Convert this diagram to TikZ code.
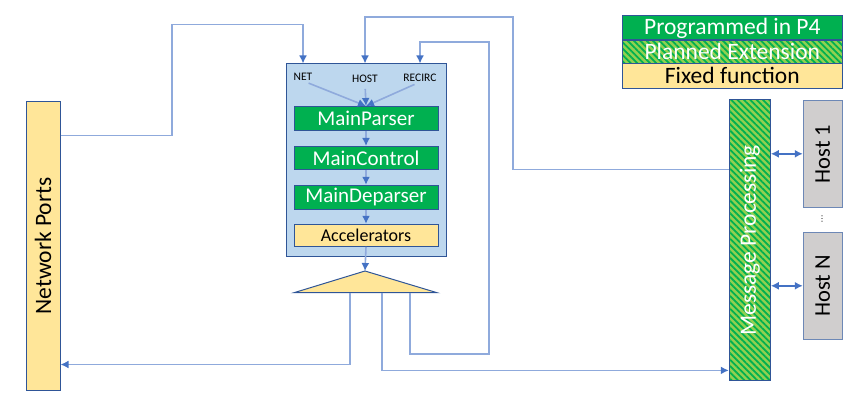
\documentclass[tikz,border=0pt]{standalone}
\usepackage{fontspec}
\setmainfont{Carlito}
\newfontfamily\symbfont{DejaVu Sans}
\usetikzlibrary{arrows.meta,calc,patterns.meta}

\definecolor{ppgreen}{HTML}{00B050}
\definecolor{lightgreen}{HTML}{92D050}
\definecolor{fixedyellow}{HTML}{FFE699}
\definecolor{coreblue}{HTML}{BDD7EE}
\definecolor{edgeblue}{HTML}{2F5597}
\definecolor{wireblue}{HTML}{8FAADC}
\definecolor{tipblue}{HTML}{4472C4}
\definecolor{hostgrey}{HTML}{D0CECE}

\tikzset{
  box/.style={draw=edgeblue, line width=1pt, inner sep=0pt},
  ppbox/.style={box, fill=ppgreen, text=white, minimum width=144pt, font=\fontsize{21}{24}\selectfont},
  fixedbox/.style={box, fill=fixedyellow},
  plannedbox/.style={box, preaction={fill=lightgreen}, pattern={Lines[angle=-45,distance=4.5pt,line width=1.8pt]}, pattern color=ppgreen, text=white},
  hostbox/.style={box, draw=edgeblue!70, fill=hostgrey, rotate=90, minimum width=107pt, minimum height=39pt, font=\fontsize{22.5}{26}\selectfont},
  bigtext/.style={font=\fontsize{23.5}{27}\selectfont},
  portlabel/.style={inner sep=0pt, font=\fontsize{11.5}{13}\selectfont},
  wire/.style={draw=wireblue, line width=1.6pt, -{Latex[length=8pt,width=8pt,color=tipblue]}},
  biwire/.style={draw=tipblue, line width=1.6pt, {Latex[length=8pt,width=8pt]}-{Latex[length=8pt,width=8pt]}}
}

\begin{document}
\begin{tikzpicture}[x=1pt,y=-1pt]
	%%%%% FRAME %%%%%
	\useasboundingbox (0,0) rectangle (862,406);
	
	%%%%% LEGEND %%%%%
	\node[box, fill=ppgreen, text=white, bigtext, minimum width=220pt, minimum height=24pt] (legprog) at (732.3,28) {Programmed in P4};
	\node[plannedbox, bigtext, minimum width=220pt, minimum height=23.3pt] (legplan) at (732.3,51.7) {Planned Extension};
	\node[fixedbox, bigtext, minimum width=220pt, minimum height=25pt] (legfixed) at (732.3,75.8) {Fixed function};
	
	%%%%% PORTS AND HOSTS %%%%%
	% rotate=90: south is the right side, north the left side
	\node[fixedbox, bigtext, rotate=90, minimum width=288pt, minimum height=34pt] (ports) at (43,246) {Network Ports};
	\node[plannedbox, bigtext, rotate=90, minimum width=281pt, minimum height=41pt] (msg) at (749.8,240.4) {Message Processing};
	\node[hostbox] (hostone) at (822.8,153.8) {Host 1};
	\node[hostbox] (hostn) at (822.8,285.8) {Host N};
	\node[inner sep=0pt, font=\symbfont\fontsize{8}{9}\selectfont] (hostdots) at (822,219) {⋮};
	
	%%%%% PIPELINE %%%%%
	\node[box, fill=coreblue, minimum width=160pt, minimum height=192pt] (core) at (366,160) {};
	\node[portlabel] (net) at (303,77) {NET};
	\node[portlabel] (host) at (365,79) {HOST};
	\node[portlabel] (recirc) at (420,78) {RECIRC};
	\node[ppbox, minimum height=24pt] (parser) at (366,118.5) {MainParser};
	\node[ppbox, minimum height=23pt] (control) at (366,158) {MainControl};
	\node[ppbox, minimum height=24pt] (deparser) at (366,197.3) {MainDeparser};
	\node[fixedbox, minimum width=144pt, minimum height=22pt, font=\fontsize{18}{21}\selectfont] (accel) at (366,235.3) {Accelerators};
	
	\draw[fixedbox] (294,292.7) -- (365,271) -- (437,292.7) -- cycle;
	\coordinate (mux) at (365,271);
	\coordinate (muxnet) at (350,292.7);
	\coordinate (muxhost) at (382,292.7);
	\coordinate (muxrecirc) at (410,292.7);
	
	%%%%% WIRES %%%%%
	\draw[wire, shorten <=6pt] (net.south) -- (parser.north);
	\draw[wire, shorten <=6pt] (host.south) -- (parser.north);
	\draw[wire, shorten <=6pt] (recirc.south) -- (parser.north);
	\draw[wire] (parser) -- (control);
	\draw[wire] (control) -- (deparser);
	\draw[wire] (deparser) -- (accel);
	\draw[wire] (accel.south) -- (mux);
	
	\draw[wire] ($(ports.south east)+(0,34)$) -| (172,24.7) -| (net |- core.north);
	\draw[wire] ($(msg.north east)+(0,70)$) -| (512.7,17.3) -| (host |- core.north);
	\draw[wire] (muxrecirc) |- (489,354) |- (420,42) -- (recirc |- core.north);
	\draw[wire] (muxnet) |- ($(ports.south west)+(0,-26)$);
	\draw[wire] (muxhost) |- ($(msg.north west)+(0,-11)$);
	
	\draw[biwire] (msg.south |- hostone) -- (hostone.north);
	\draw[biwire] (msg.south |- hostn) -- (hostn.north);
	
	%%%%% END %%%%%
\end{tikzpicture}
\end{document}
